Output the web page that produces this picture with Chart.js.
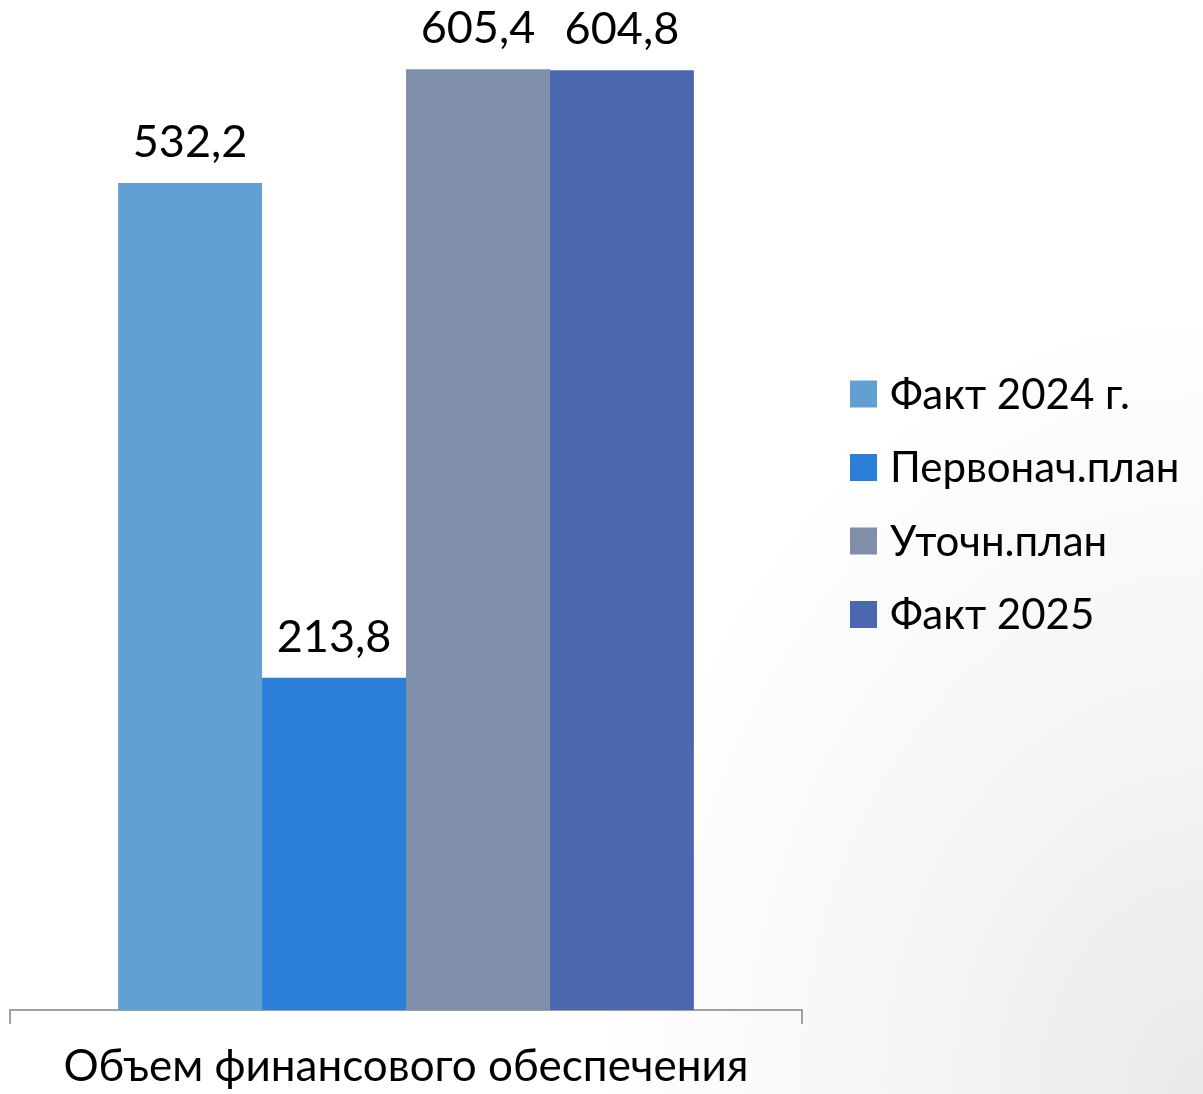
<!DOCTYPE html>
<html>
<head>
<meta charset="utf-8">
<script src="https://cdn.jsdelivr.net/npm/chart.js@4"></script>
<style>
  html, body { margin: 0; padding: 0; width: 1203px; height: 1094px; overflow: hidden; }
  body { background: radial-gradient(ellipse 850px 1100px at 100% 100%, #e9e9e9 0%, #f5f5f5 35%, #ffffff 72%); }
  #wrap { position: absolute; left: 0; top: 0; width: 1203px; height: 1094px; }
</style>
</head>
<body>
<div id="wrap"><canvas id="c" width="1203" height="1094"></canvas></div>
<script>
const categories = ["Объем финансового обеспечения"];
const seriesNames = ["Факт 2024 г.", "Первонач.план", "Уточн.план", "Факт 2025"];
const fact2024 = [532.2];
const initialPlan = [213.8];
const refinedPlan = [605.4];
const fact2025 = [604.8];
const seriesColors = ["#629FD3", "#2B7FD8", "#7F8FA9", "#4A67AF"];
const FONT = "Lato, 'Open Sans', sans-serif";

const valueLabels = {
  id: 'valueLabels',
  afterDatasetsDraw(chart) {
    const ctx = chart.ctx;
    ctx.save();
    ctx.font = "45px " + FONT;
    ctx.fillStyle = "#000";
    ctx.textAlign = "center";
    ctx.textBaseline = "alphabetic";
    chart.data.datasets.forEach((ds, i) => {
      const meta = chart.getDatasetMeta(i);
      meta.data.forEach((bar, j) => {
        const v = ds.data[j];
        ctx.fillText(v.toFixed(1).replace('.', ','), bar.x, bar.y - 26);
      });
    });
    ctx.restore();
  }
};

const sideLegend = {
  id: 'sideLegend',
  afterDraw(chart) {
    const ctx = chart.ctx;
    ctx.save();
    ctx.font = "42px " + FONT;
    ctx.textAlign = "left";
    ctx.textBaseline = "middle";
    const x0 = 850, y0 = 394, step = 73.5, box = 27;
    chart.data.datasets.forEach((ds, i) => {
      const cy = y0 + i * step;
      ctx.fillStyle = ds.backgroundColor;
      ctx.fillRect(x0, cy - box / 2, box, box);
      ctx.fillStyle = "#000";
      ctx.fillText(ds.label, x0 + 40, cy + 1);
    });
    ctx.restore();
  }
};

const seriesData = [fact2024, initialPlan, refinedPlan, fact2025];

new Chart(document.getElementById('c'), {
  type: 'bar',
  data: {
    labels: categories,
    datasets: seriesNames.map((name, i) => ({
      label: name,
      data: seriesData[i],
      backgroundColor: seriesColors[i],
      borderWidth: 0,
      categoryPercentage: 0.727,
      barPercentage: 1.0
    }))
  },
  options: {
    responsive: false,
    animation: false,
    devicePixelRatio: 1,
    layout: { padding: { left: 10, right: 401, top: 0, bottom: 0 } },
    plugins: { legend: { display: false }, tooltip: { enabled: false } },
    scales: {
      y: { display: false, min: 0, max: 650 },
      x: {
        offset: true,
        afterFit(scale) { scale.height = 84; },
        border: { display: true, color: '#a0a0a0', width: 2 },
        grid: { offset: true, drawOnChartArea: false, drawTicks: true, tickLength: 14, color: '#a0a0a0', lineWidth: 2 },
        ticks: { color: '#000', font: { family: FONT, size: 44 }, padding: 16, maxRotation: 0 }
      }
    }
  },
  plugins: [valueLabels, sideLegend]
});
</script>
</body>
</html>
